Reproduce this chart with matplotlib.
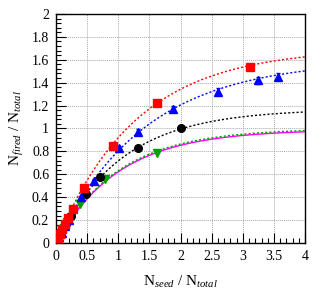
import matplotlib
matplotlib.use("Agg")
import matplotlib.pyplot as plt
import numpy as np
from matplotlib.ticker import MultipleLocator

plt.rcParams['font.family'] = ['Liberation Serif']
plt.rcParams['mathtext.fontset'] = 'custom'
plt.rcParams['mathtext.rm'] = 'Liberation Serif'
plt.rcParams['mathtext.it'] = 'Liberation Serif:italic'

# measured points (N_seed/N_total, N_fired/N_total, error)
red_x = [0.03, 0.06, 0.1, 0.14, 0.19, 0.27, 0.45, 0.92, 1.62, 3.12]
red_y = [0.04, 0.08, 0.12, 0.17, 0.22, 0.30, 0.48, 0.85, 1.22, 1.54]
red_e = [0.005, 0.005, 0.008, 0.008, 0.01, 0.01, 0.015, 0.02, 0.02, 0.025]

blue_x = [0.02, 0.05, 0.09, 0.14, 0.2, 0.40, 0.61, 1.01, 1.32, 1.88, 2.6, 3.24, 3.57]
blue_y = [0.02, 0.05, 0.09, 0.15, 0.2, 0.40, 0.54, 0.83, 0.97, 1.17, 1.32, 1.42, 1.45]
blue_e = [0.005, 0.005, 0.005, 0.008, 0.008, 0.01, 0.015, 0.02, 0.025, 0.025, 0.03, 0.03, 0.03]

black_x = [0.02, 0.05, 0.1, 0.16, 0.24, 0.48, 0.70, 1.32, 2.0]
black_y = [0.03, 0.06, 0.11, 0.17, 0.24, 0.43, 0.58, 0.83, 1.0]
black_e = [0.005, 0.005, 0.008, 0.008, 0.01, 0.01, 0.015, 0.02, 0.02]

green_x = [0.01, 0.04, 0.08, 0.13, 0.18, 0.24, 0.39, 0.79, 1.62]
green_y = [0.02, 0.05, 0.09, 0.13, 0.18, 0.23, 0.34, 0.56, 0.79]
green_e = [0.005, 0.005, 0.005, 0.008, 0.008, 0.01, 0.01, 0.015, 0.02]

# fitted saturation curves y = a * (1 - exp(-b x))
fit_red = (1.70, 0.78)
fit_blue = (1.60, 0.70)
fit_black = (1.17, 0.95)
fit_green = (1.00, 1.00)
fit_magenta = (0.99, 0.99)


def sat(x, p):
    return p[0] * (1 - np.exp(-p[1] * x))


fig = plt.figure(figsize=(3.32, 2.9), dpi=100)
ax = fig.add_axes([0.169, 0.162, 0.75, 0.79])

xs = np.linspace(0, 4, 300)
ax.plot(xs, sat(xs, fit_magenta), color='#ff00ff', lw=1.0, zorder=2)
ax.plot(xs, sat(xs, fit_green), color='#00a000', lw=1.0, ls=(0, (1.5, 1.5)), zorder=2)
ax.plot(xs, sat(xs, fit_black), color='black', lw=1.0, ls=(0, (1.5, 1.5)), zorder=2)
ax.plot(xs, sat(xs, fit_blue), color='blue', lw=1.0, ls=(0, (1.5, 1.5)), zorder=2)
ax.plot(xs, sat(xs, fit_red), color='red', lw=1.0, ls=(0, (1.5, 1.5)), zorder=2)

ax.errorbar(green_x, green_y, yerr=green_e, fmt='v', color='#00a000', ms=5.5, elinewidth=0.8, capsize=0, zorder=3)
ax.errorbar(black_x, black_y, yerr=black_e, fmt='o', color='black', ms=5.5, elinewidth=0.8, capsize=0, zorder=3)
ax.errorbar(blue_x, blue_y, yerr=blue_e, fmt='^', color='blue', ms=5.5, elinewidth=0.8, capsize=1.5, zorder=3)
ax.errorbar(red_x, red_y, yerr=red_e, fmt='s', color='red', ms=5.5, elinewidth=0.8, capsize=1.5, zorder=3)

ax.set_xlim(0, 4)
ax.set_ylim(0, 2)
ax.xaxis.set_minor_locator(MultipleLocator(0.1))
ax.yaxis.set_minor_locator(MultipleLocator(0.04))
ax.set_xticks([0, 0.5, 1, 1.5, 2, 2.5, 3, 3.5, 4])
ax.set_xticklabels(['0', '0.5', '1', '1.5', '2', '2.5', '3', '3.5', '4'])
ax.set_yticks([0, 0.2, 0.4, 0.6, 0.8, 1, 1.2, 1.4, 1.6, 1.8, 2])
ax.set_yticklabels(['0', '0.2', '0.4', '0.6', '0.8', '1', '1.2', '1.4', '1.6', '1.8', '2'])
ax.tick_params(which='both', direction='in', top=False, right=False, labelsize=10, width=0.8)
ax.tick_params(which='major', length=7, pad=5)
ax.tick_params(which='minor', length=3.5)
ax.grid(True, which='major', color='#aaaaaa', ls=(0, (1, 1)), lw=0.7)
for s in ax.spines.values():
    s.set_linewidth(1.0)

ax.set_xlabel(r'N$_{\mathit{seed}}$ / N$_{\mathit{total}}$', fontsize=11, labelpad=8)
ax.set_ylabel(r'N$_{\mathit{fired}}$ / N$_{\mathit{total}}$', fontsize=11, labelpad=4)

fig.savefig('out.png', dpi=100)
